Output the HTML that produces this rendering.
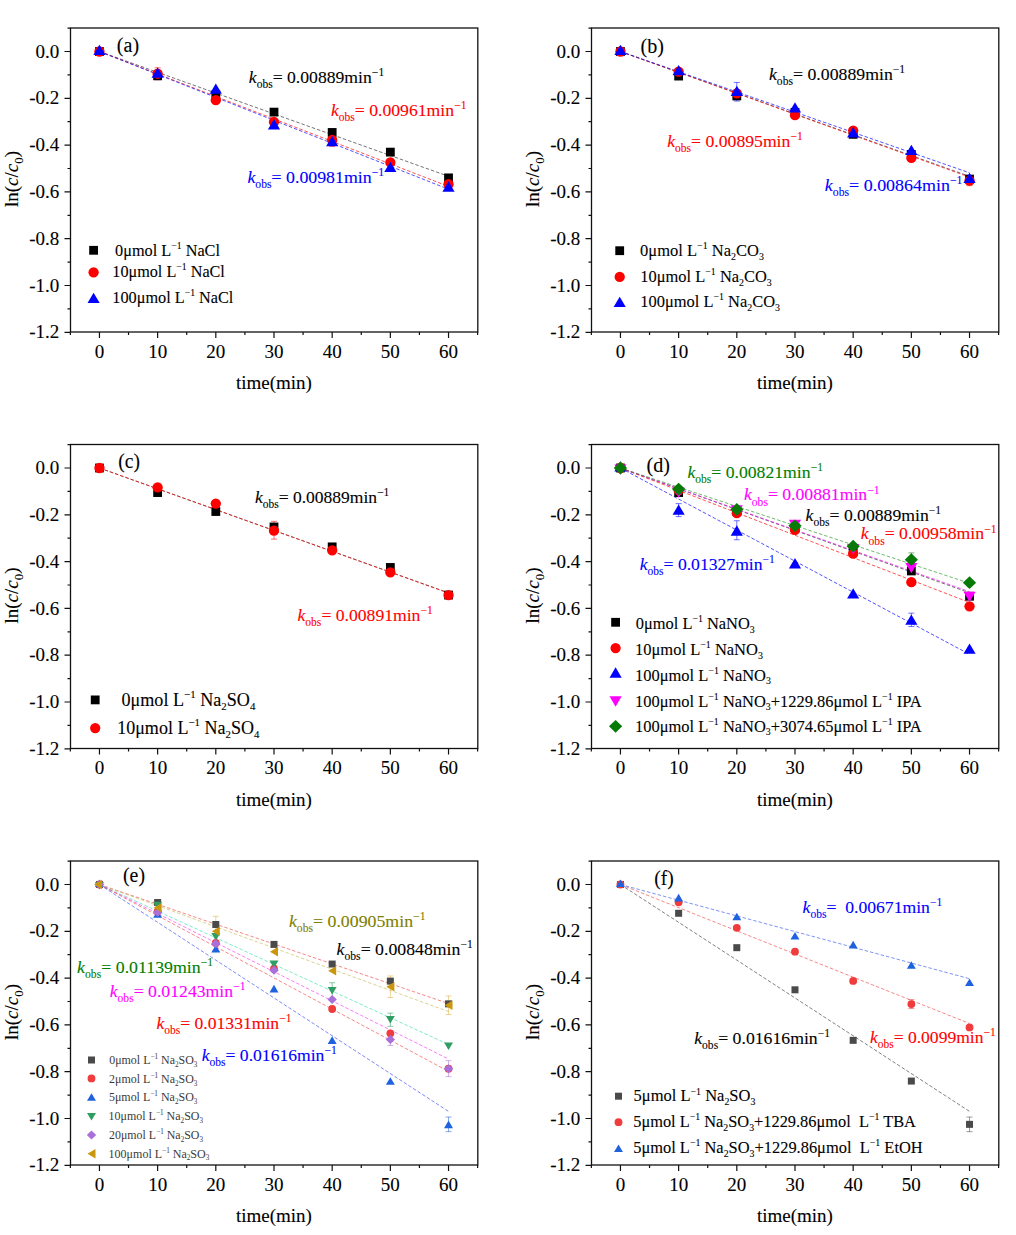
<!DOCTYPE html><html><head><meta charset="utf-8"><style>html,body{margin:0;padding:0;background:#fff;}svg{display:block;}text{font-family:"Liberation Serif", serif;stroke-width:0.1px;}</style></head><body>
<svg width="1016" height="1235" viewBox="0 0 1016 1235">
<rect width="1016" height="1235" fill="#fff"/>
<rect x="70.5" y="28" width="407.3" height="304" fill="none" stroke="#111" stroke-width="1.3"/>
<path d="M64.5 51.5H70.5M64.5 98.3H70.5M64.5 145.1H70.5M64.5 191.9H70.5M64.5 238.7H70.5M64.5 285.5H70.5M64.5 332.3H70.5M67.5 28.1H70.5M67.5 74.9H70.5M67.5 121.7H70.5M67.5 168.5H70.5M67.5 215.3H70.5M67.5 262.1H70.5M67.5 308.9H70.5M99.45 332V338M157.63 332V338M215.81 332V338M273.99 332V338M332.17 332V338M390.35 332V338M448.53 332V338M70.36 332V335M128.54 332V335M186.72 332V335M244.9 332V335M303.08 332V335M361.26 332V335M419.44 332V335M477.62 332V335" stroke="#111" stroke-width="1.2" fill="none"/>
<g font-size="19" text-anchor="end" fill="#000" stroke="#000">
<text x="59.3" y="57.6">0.0</text>
<text x="59.3" y="104.4">-0.2</text>
<text x="59.3" y="151.2">-0.4</text>
<text x="59.3" y="198">-0.6</text>
<text x="59.3" y="244.8">-0.8</text>
<text x="59.3" y="291.6">-1.0</text>
<text x="59.3" y="338.4">-1.2</text>
</g>
<g font-size="19" text-anchor="middle" fill="#000" stroke="#000">
<text x="99.45" y="357.6">0</text>
<text x="157.63" y="357.6">10</text>
<text x="215.81" y="357.6">20</text>
<text x="273.99" y="357.6">30</text>
<text x="332.17" y="357.6">40</text>
<text x="390.35" y="357.6">50</text>
<text x="448.53" y="357.6">60</text>
</g>
<text x="273.9" y="389" font-size="19" text-anchor="middle" stroke="#000">time(min)</text>
<text transform="translate(17.8,179) rotate(-90)" font-size="19" text-anchor="middle" stroke="#000">ln(<tspan font-style="italic">c</tspan>/<tspan font-style="italic">c</tspan><tspan font-size="13" dy="5.5">0</tspan><tspan dy="-5.5">)</tspan></text>
<rect x="591.5" y="28" width="407.3" height="304" fill="none" stroke="#111" stroke-width="1.3"/>
<path d="M585.5 51.5H591.5M585.5 98.3H591.5M585.5 145.1H591.5M585.5 191.9H591.5M585.5 238.7H591.5M585.5 285.5H591.5M585.5 332.3H591.5M588.5 28.1H591.5M588.5 74.9H591.5M588.5 121.7H591.5M588.5 168.5H591.5M588.5 215.3H591.5M588.5 262.1H591.5M588.5 308.9H591.5M620.45 332V338M678.63 332V338M736.81 332V338M794.99 332V338M853.17 332V338M911.35 332V338M969.53 332V338M591.36 332V335M649.54 332V335M707.72 332V335M765.9 332V335M824.08 332V335M882.26 332V335M940.44 332V335M998.62 332V335" stroke="#111" stroke-width="1.2" fill="none"/>
<g font-size="19" text-anchor="end" fill="#000" stroke="#000">
<text x="580.3" y="57.6">0.0</text>
<text x="580.3" y="104.4">-0.2</text>
<text x="580.3" y="151.2">-0.4</text>
<text x="580.3" y="198">-0.6</text>
<text x="580.3" y="244.8">-0.8</text>
<text x="580.3" y="291.6">-1.0</text>
<text x="580.3" y="338.4">-1.2</text>
</g>
<g font-size="19" text-anchor="middle" fill="#000" stroke="#000">
<text x="620.45" y="357.6">0</text>
<text x="678.63" y="357.6">10</text>
<text x="736.81" y="357.6">20</text>
<text x="794.99" y="357.6">30</text>
<text x="853.17" y="357.6">40</text>
<text x="911.35" y="357.6">50</text>
<text x="969.53" y="357.6">60</text>
</g>
<text x="794.9" y="389" font-size="19" text-anchor="middle" stroke="#000">time(min)</text>
<text transform="translate(538.8,179) rotate(-90)" font-size="19" text-anchor="middle" stroke="#000">ln(<tspan font-style="italic">c</tspan>/<tspan font-style="italic">c</tspan><tspan font-size="13" dy="5.5">0</tspan><tspan dy="-5.5">)</tspan></text>
<rect x="70.5" y="444.5" width="407.3" height="304" fill="none" stroke="#111" stroke-width="1.3"/>
<path d="M64.5 468H70.5M64.5 514.8H70.5M64.5 561.6H70.5M64.5 608.4H70.5M64.5 655.2H70.5M64.5 702H70.5M64.5 748.8H70.5M67.5 444.6H70.5M67.5 491.4H70.5M67.5 538.2H70.5M67.5 585H70.5M67.5 631.8H70.5M67.5 678.6H70.5M67.5 725.4H70.5M99.45 748.5V754.5M157.63 748.5V754.5M215.81 748.5V754.5M273.99 748.5V754.5M332.17 748.5V754.5M390.35 748.5V754.5M448.53 748.5V754.5M70.36 748.5V751.5M128.54 748.5V751.5M186.72 748.5V751.5M244.9 748.5V751.5M303.08 748.5V751.5M361.26 748.5V751.5M419.44 748.5V751.5M477.62 748.5V751.5" stroke="#111" stroke-width="1.2" fill="none"/>
<g font-size="19" text-anchor="end" fill="#000" stroke="#000">
<text x="59.3" y="474.1">0.0</text>
<text x="59.3" y="520.9">-0.2</text>
<text x="59.3" y="567.7">-0.4</text>
<text x="59.3" y="614.5">-0.6</text>
<text x="59.3" y="661.3">-0.8</text>
<text x="59.3" y="708.1">-1.0</text>
<text x="59.3" y="754.9">-1.2</text>
</g>
<g font-size="19" text-anchor="middle" fill="#000" stroke="#000">
<text x="99.45" y="774.1">0</text>
<text x="157.63" y="774.1">10</text>
<text x="215.81" y="774.1">20</text>
<text x="273.99" y="774.1">30</text>
<text x="332.17" y="774.1">40</text>
<text x="390.35" y="774.1">50</text>
<text x="448.53" y="774.1">60</text>
</g>
<text x="273.9" y="805.5" font-size="19" text-anchor="middle" stroke="#000">time(min)</text>
<text transform="translate(17.8,595.5) rotate(-90)" font-size="19" text-anchor="middle" stroke="#000">ln(<tspan font-style="italic">c</tspan>/<tspan font-style="italic">c</tspan><tspan font-size="13" dy="5.5">0</tspan><tspan dy="-5.5">)</tspan></text>
<rect x="591.5" y="444.5" width="407.3" height="304" fill="none" stroke="#111" stroke-width="1.3"/>
<path d="M585.5 468H591.5M585.5 514.8H591.5M585.5 561.6H591.5M585.5 608.4H591.5M585.5 655.2H591.5M585.5 702H591.5M585.5 748.8H591.5M588.5 444.6H591.5M588.5 491.4H591.5M588.5 538.2H591.5M588.5 585H591.5M588.5 631.8H591.5M588.5 678.6H591.5M588.5 725.4H591.5M620.45 748.5V754.5M678.63 748.5V754.5M736.81 748.5V754.5M794.99 748.5V754.5M853.17 748.5V754.5M911.35 748.5V754.5M969.53 748.5V754.5M591.36 748.5V751.5M649.54 748.5V751.5M707.72 748.5V751.5M765.9 748.5V751.5M824.08 748.5V751.5M882.26 748.5V751.5M940.44 748.5V751.5M998.62 748.5V751.5" stroke="#111" stroke-width="1.2" fill="none"/>
<g font-size="19" text-anchor="end" fill="#000" stroke="#000">
<text x="580.3" y="474.1">0.0</text>
<text x="580.3" y="520.9">-0.2</text>
<text x="580.3" y="567.7">-0.4</text>
<text x="580.3" y="614.5">-0.6</text>
<text x="580.3" y="661.3">-0.8</text>
<text x="580.3" y="708.1">-1.0</text>
<text x="580.3" y="754.9">-1.2</text>
</g>
<g font-size="19" text-anchor="middle" fill="#000" stroke="#000">
<text x="620.45" y="774.1">0</text>
<text x="678.63" y="774.1">10</text>
<text x="736.81" y="774.1">20</text>
<text x="794.99" y="774.1">30</text>
<text x="853.17" y="774.1">40</text>
<text x="911.35" y="774.1">50</text>
<text x="969.53" y="774.1">60</text>
</g>
<text x="794.9" y="805.5" font-size="19" text-anchor="middle" stroke="#000">time(min)</text>
<text transform="translate(538.8,595.5) rotate(-90)" font-size="19" text-anchor="middle" stroke="#000">ln(<tspan font-style="italic">c</tspan>/<tspan font-style="italic">c</tspan><tspan font-size="13" dy="5.5">0</tspan><tspan dy="-5.5">)</tspan></text>
<rect x="70.5" y="861" width="407.3" height="304" fill="none" stroke="#111" stroke-width="1.3"/>
<path d="M64.5 884.5H70.5M64.5 931.3H70.5M64.5 978.1H70.5M64.5 1024.9H70.5M64.5 1071.7H70.5M64.5 1118.5H70.5M64.5 1165.3H70.5M67.5 861.1H70.5M67.5 907.9H70.5M67.5 954.7H70.5M67.5 1001.5H70.5M67.5 1048.3H70.5M67.5 1095.1H70.5M67.5 1141.9H70.5M99.45 1165V1171M157.63 1165V1171M215.81 1165V1171M273.99 1165V1171M332.17 1165V1171M390.35 1165V1171M448.53 1165V1171M70.36 1165V1168M128.54 1165V1168M186.72 1165V1168M244.9 1165V1168M303.08 1165V1168M361.26 1165V1168M419.44 1165V1168M477.62 1165V1168" stroke="#111" stroke-width="1.2" fill="none"/>
<g font-size="19" text-anchor="end" fill="#000" stroke="#000">
<text x="59.3" y="890.6">0.0</text>
<text x="59.3" y="937.4">-0.2</text>
<text x="59.3" y="984.2">-0.4</text>
<text x="59.3" y="1031">-0.6</text>
<text x="59.3" y="1077.8">-0.8</text>
<text x="59.3" y="1124.6">-1.0</text>
<text x="59.3" y="1171.4">-1.2</text>
</g>
<g font-size="19" text-anchor="middle" fill="#000" stroke="#000">
<text x="99.45" y="1190.6">0</text>
<text x="157.63" y="1190.6">10</text>
<text x="215.81" y="1190.6">20</text>
<text x="273.99" y="1190.6">30</text>
<text x="332.17" y="1190.6">40</text>
<text x="390.35" y="1190.6">50</text>
<text x="448.53" y="1190.6">60</text>
</g>
<text x="273.9" y="1222" font-size="19" text-anchor="middle" stroke="#000">time(min)</text>
<text transform="translate(17.8,1012) rotate(-90)" font-size="19" text-anchor="middle" stroke="#000">ln(<tspan font-style="italic">c</tspan>/<tspan font-style="italic">c</tspan><tspan font-size="13" dy="5.5">0</tspan><tspan dy="-5.5">)</tspan></text>
<rect x="591.5" y="861" width="407.3" height="304" fill="none" stroke="#111" stroke-width="1.3"/>
<path d="M585.5 884.5H591.5M585.5 931.3H591.5M585.5 978.1H591.5M585.5 1024.9H591.5M585.5 1071.7H591.5M585.5 1118.5H591.5M585.5 1165.3H591.5M588.5 861.1H591.5M588.5 907.9H591.5M588.5 954.7H591.5M588.5 1001.5H591.5M588.5 1048.3H591.5M588.5 1095.1H591.5M588.5 1141.9H591.5M620.45 1165V1171M678.63 1165V1171M736.81 1165V1171M794.99 1165V1171M853.17 1165V1171M911.35 1165V1171M969.53 1165V1171M591.36 1165V1168M649.54 1165V1168M707.72 1165V1168M765.9 1165V1168M824.08 1165V1168M882.26 1165V1168M940.44 1165V1168M998.62 1165V1168" stroke="#111" stroke-width="1.2" fill="none"/>
<g font-size="19" text-anchor="end" fill="#000" stroke="#000">
<text x="580.3" y="890.6">0.0</text>
<text x="580.3" y="937.4">-0.2</text>
<text x="580.3" y="984.2">-0.4</text>
<text x="580.3" y="1031">-0.6</text>
<text x="580.3" y="1077.8">-0.8</text>
<text x="580.3" y="1124.6">-1.0</text>
<text x="580.3" y="1171.4">-1.2</text>
</g>
<g font-size="19" text-anchor="middle" fill="#000" stroke="#000">
<text x="620.45" y="1190.6">0</text>
<text x="678.63" y="1190.6">10</text>
<text x="736.81" y="1190.6">20</text>
<text x="794.99" y="1190.6">30</text>
<text x="853.17" y="1190.6">40</text>
<text x="911.35" y="1190.6">50</text>
<text x="969.53" y="1190.6">60</text>
</g>
<text x="794.9" y="1222" font-size="19" text-anchor="middle" stroke="#000">time(min)</text>
<text transform="translate(538.8,1012) rotate(-90)" font-size="19" text-anchor="middle" stroke="#000">ln(<tspan font-style="italic">c</tspan>/<tspan font-style="italic">c</tspan><tspan font-size="13" dy="5.5">0</tspan><tspan dy="-5.5">)</tspan></text>
<line x1="99.45" y1="51.5" x2="448.53" y2="176.32" stroke="#333" stroke-width="0.9" stroke-dasharray="3.5 2" opacity="0.75"/>
<line x1="99.45" y1="51.5" x2="448.53" y2="186.42" stroke="#ff0000" stroke-width="0.9" stroke-dasharray="3.5 2" opacity="0.75"/>
<line x1="99.45" y1="51.5" x2="448.53" y2="189.23" stroke="#0000ff" stroke-width="0.9" stroke-dasharray="3.5 2" opacity="0.75"/>
<path d="M157.63 67.73V79.73M154.63 67.73H160.63M154.63 79.73H160.63" stroke="#ff0000" stroke-width="1" fill="none" opacity="0.55"/>
<path d="M332.17 133.35V146.55M329.17 133.35H335.17M329.17 146.55H335.17" stroke="#ff0000" stroke-width="1" fill="none" opacity="0.55"/>
<rect x="95.05" y="47.1" width="8.8" height="8.8" fill="#000"/>
<rect x="153.23" y="71.44" width="8.8" height="8.8" fill="#000"/>
<rect x="211.41" y="90.39" width="8.8" height="8.8" fill="#000"/>
<rect x="269.59" y="107.71" width="8.8" height="8.8" fill="#000"/>
<rect x="327.77" y="128.06" width="8.8" height="8.8" fill="#000"/>
<rect x="385.95" y="147.72" width="8.8" height="8.8" fill="#000"/>
<rect x="444.13" y="173.46" width="8.8" height="8.8" fill="#000"/>
<circle cx="99.45" cy="51.5" r="5.15" fill="#ff0000"/>
<circle cx="157.63" cy="73.73" r="5.15" fill="#ff0000"/>
<circle cx="215.81" cy="100.17" r="5.15" fill="#ff0000"/>
<circle cx="273.99" cy="121.93" r="5.15" fill="#ff0000"/>
<circle cx="332.17" cy="139.95" r="5.15" fill="#ff0000"/>
<circle cx="390.35" cy="162.42" r="5.15" fill="#ff0000"/>
<circle cx="448.53" cy="184.18" r="5.15" fill="#ff0000"/>
<path d="M99.45 44.63L105.53 54.93H93.37Z" fill="#0000ff"/>
<path d="M157.63 67.41L163.71 77.71H151.55Z" fill="#0000ff"/>
<path d="M215.81 83.56L221.89 93.86H209.73Z" fill="#0000ff"/>
<path d="M273.99 119.12L280.07 129.42H267.91Z" fill="#0000ff"/>
<path d="M332.17 135.97L338.25 146.27H326.09Z" fill="#0000ff"/>
<path d="M390.35 161.71L396.43 172.01H384.27Z" fill="#0000ff"/>
<path d="M448.53 181.37L454.61 191.67H442.45Z" fill="#0000ff"/>
<g transform="translate(116.8,52) scale(1.0049,1.0)" fill="#000" stroke="#000"><text x="0" y="0" font-size="20" xml:space="preserve">(a)</text></g>
<g transform="translate(248.8,82.5) scale(0.9970,1.0)" fill="#000" stroke="#000"><text x="0" y="0" font-size="17.7" font-style="italic" xml:space="preserve">k</text><text x="7.86" y="5.2" font-size="11.6" xml:space="preserve">obs</text><text x="23.97" y="0" font-size="17.7" xml:space="preserve">= 0.00889min</text><text x="123.44" y="-6.8" font-size="11.6" xml:space="preserve">−1</text></g>
<g transform="translate(330.9,115.6) scale(0.9985,1.0)" fill="#ff0000" stroke="#ff0000"><text x="0" y="0" font-size="17.7" font-style="italic" xml:space="preserve">k</text><text x="7.86" y="5.2" font-size="11.6" xml:space="preserve">obs</text><text x="23.97" y="0" font-size="17.7" xml:space="preserve">= 0.00961min</text><text x="123.44" y="-6.8" font-size="11.6" xml:space="preserve">−1</text></g>
<g transform="translate(247.4,182.6) scale(1.0074,1.0)" fill="#0000ff" stroke="#0000ff"><text x="0" y="0" font-size="17.7" font-style="italic" xml:space="preserve">k</text><text x="7.86" y="5.2" font-size="11.6" xml:space="preserve">obs</text><text x="23.97" y="0" font-size="17.7" xml:space="preserve">= 0.00981min</text><text x="123.44" y="-6.8" font-size="11.6" xml:space="preserve">−1</text></g>
<line x1="620.45" y1="51.5" x2="969.53" y2="176.32" stroke="#333" stroke-width="0.9" stroke-dasharray="3.5 2" opacity="0.75"/>
<line x1="620.45" y1="51.5" x2="969.53" y2="177.16" stroke="#ff0000" stroke-width="0.9" stroke-dasharray="3.5 2" opacity="0.75"/>
<line x1="620.45" y1="51.5" x2="969.53" y2="172.81" stroke="#0000ff" stroke-width="0.9" stroke-dasharray="3.5 2" opacity="0.75"/>
<path d="M736.81 82.45V101.05M733.81 82.45H739.81M733.81 101.05H739.81" stroke="#0000ff" stroke-width="1" fill="none" opacity="0.55"/>
<path d="M969.53 175.67V185.67M966.53 175.67H972.53M966.53 185.67H972.53" stroke="#ff0000" stroke-width="1" fill="none" opacity="0.55"/>
<rect x="616.05" y="47.1" width="8.8" height="8.8" fill="#000"/>
<rect x="674.23" y="71.67" width="8.8" height="8.8" fill="#000"/>
<rect x="732.41" y="91.56" width="8.8" height="8.8" fill="#000"/>
<rect x="790.59" y="107.94" width="8.8" height="8.8" fill="#000"/>
<rect x="848.77" y="129.94" width="8.8" height="8.8" fill="#000"/>
<rect x="906.95" y="150.06" width="8.8" height="8.8" fill="#000"/>
<rect x="965.13" y="174.63" width="8.8" height="8.8" fill="#000"/>
<circle cx="620.45" cy="51.5" r="5.15" fill="#ff0000"/>
<circle cx="678.63" cy="71.62" r="5.15" fill="#ff0000"/>
<circle cx="736.81" cy="93.39" r="5.15" fill="#ff0000"/>
<circle cx="794.99" cy="115.15" r="5.15" fill="#ff0000"/>
<circle cx="853.17" cy="130.59" r="5.15" fill="#ff0000"/>
<circle cx="911.35" cy="157.97" r="5.15" fill="#ff0000"/>
<circle cx="969.53" cy="180.67" r="5.15" fill="#ff0000"/>
<path d="M620.45 44.63L626.53 54.93H614.37Z" fill="#0000ff"/>
<path d="M678.63 65.07L684.71 75.37H672.55Z" fill="#0000ff"/>
<path d="M736.81 85.66L742.89 95.96H730.73Z" fill="#0000ff"/>
<path d="M794.99 102.28L801.07 112.58H788.91Z" fill="#0000ff"/>
<path d="M853.17 127.08L859.25 137.38H847.09Z" fill="#0000ff"/>
<path d="M911.35 144.63L917.43 154.93H905.27Z" fill="#0000ff"/>
<path d="M969.53 172.71L975.61 183.01H963.45Z" fill="#0000ff"/>
<g transform="translate(640.6,52.7) scale(1.0047,1.0)" fill="#000" stroke="#000"><text x="0" y="0" font-size="20" xml:space="preserve">(b)</text></g>
<g transform="translate(769,80) scale(1.0030,1.0)" fill="#000" stroke="#000"><text x="0" y="0" font-size="17.7" font-style="italic" xml:space="preserve">k</text><text x="7.86" y="5.2" font-size="11.6" xml:space="preserve">obs</text><text x="23.97" y="0" font-size="17.7" xml:space="preserve">= 0.00889min</text><text x="123.44" y="-6.8" font-size="11.6" xml:space="preserve">−1</text></g>
<g transform="translate(667.2,147) scale(0.9985,1.0)" fill="#ff0000" stroke="#ff0000"><text x="0" y="0" font-size="17.7" font-style="italic" xml:space="preserve">k</text><text x="7.86" y="5.2" font-size="11.6" xml:space="preserve">obs</text><text x="23.97" y="0" font-size="17.7" xml:space="preserve">= 0.00895min</text><text x="123.44" y="-6.8" font-size="11.6" xml:space="preserve">−1</text></g>
<g transform="translate(824.79,191) scale(1.0141,1.0)" fill="#0000ff" stroke="#0000ff"><text x="0" y="0" font-size="17.7" font-style="italic" xml:space="preserve">k</text><text x="7.86" y="5.2" font-size="11.6" xml:space="preserve">obs</text><text x="23.97" y="0" font-size="17.7" xml:space="preserve">= 0.00864min</text><text x="123.44" y="-6.8" font-size="11.6" xml:space="preserve">−1</text></g>
<line x1="99.45" y1="468" x2="448.53" y2="592.82" stroke="#333" stroke-width="0.9" stroke-dasharray="3.5 2" opacity="0.75"/>
<line x1="99.45" y1="468" x2="448.53" y2="593.1" stroke="#ff0000" stroke-width="0.9" stroke-dasharray="3.5 2" opacity="0.75"/>
<path d="M273.99 521.34V539.14M270.99 521.34H276.99M270.99 539.14H276.99" stroke="#ff0000" stroke-width="1" fill="none" opacity="0.55"/>
<rect x="95.05" y="463.6" width="8.8" height="8.8" fill="#000"/>
<rect x="153.23" y="488.17" width="8.8" height="8.8" fill="#000"/>
<rect x="211.41" y="507.12" width="8.8" height="8.8" fill="#000"/>
<rect x="269.59" y="522.57" width="8.8" height="8.8" fill="#000"/>
<rect x="327.77" y="542.46" width="8.8" height="8.8" fill="#000"/>
<rect x="385.95" y="563.05" width="8.8" height="8.8" fill="#000"/>
<rect x="444.13" y="590.66" width="8.8" height="8.8" fill="#000"/>
<circle cx="99.45" cy="468" r="5.15" fill="#ff0000"/>
<circle cx="157.63" cy="487.42" r="5.15" fill="#ff0000"/>
<circle cx="215.81" cy="503.57" r="5.15" fill="#ff0000"/>
<circle cx="273.99" cy="530.71" r="5.15" fill="#ff0000"/>
<circle cx="332.17" cy="550.37" r="5.15" fill="#ff0000"/>
<circle cx="390.35" cy="572.36" r="5.15" fill="#ff0000"/>
<circle cx="448.53" cy="595.06" r="5.15" fill="#ff0000"/>
<g transform="translate(118.32,468.4) scale(0.9754,1.0)" fill="#000" stroke="#000"><text x="0" y="0" font-size="20" xml:space="preserve">(c)</text></g>
<g transform="translate(254.9,502.6) scale(0.9903,1.0)" fill="#000" stroke="#000"><text x="0" y="0" font-size="17.7" font-style="italic" xml:space="preserve">k</text><text x="7.86" y="5.2" font-size="11.6" xml:space="preserve">obs</text><text x="23.97" y="0" font-size="17.7" xml:space="preserve">= 0.00889min</text><text x="123.44" y="-6.8" font-size="11.6" xml:space="preserve">−1</text></g>
<g transform="translate(297.5,620.7) scale(0.9963,1.0)" fill="#ff0000" stroke="#ff0000"><text x="0" y="0" font-size="17.7" font-style="italic" xml:space="preserve">k</text><text x="7.86" y="5.2" font-size="11.6" xml:space="preserve">obs</text><text x="23.97" y="0" font-size="17.7" xml:space="preserve">= 0.00891min</text><text x="123.44" y="-6.8" font-size="11.6" xml:space="preserve">−1</text></g>
<line x1="620.45" y1="468" x2="969.53" y2="592.82" stroke="#333" stroke-width="0.9" stroke-dasharray="3.5 2" opacity="0.75"/>
<line x1="620.45" y1="468" x2="969.53" y2="602.5" stroke="#ff0000" stroke-width="0.9" stroke-dasharray="3.5 2" opacity="0.75"/>
<line x1="620.45" y1="468" x2="969.53" y2="654.31" stroke="#0000ff" stroke-width="0.9" stroke-dasharray="3.5 2" opacity="0.75"/>
<line x1="620.45" y1="468" x2="969.53" y2="591.69" stroke="#ff00ff" stroke-width="0.9" stroke-dasharray="3.5 2" opacity="0.75"/>
<line x1="620.45" y1="468" x2="969.53" y2="583.27" stroke="#2a9a2a" stroke-width="0.9" stroke-dasharray="3.5 2" opacity="0.75"/>
<path d="M678.63 503.62V516.62M675.63 503.62H681.63M675.63 516.62H681.63" stroke="#0000ff" stroke-width="1" fill="none" opacity="0.55"/>
<path d="M736.81 520.74V539.74M733.81 520.74H739.81M733.81 539.74H739.81" stroke="#0000ff" stroke-width="1" fill="none" opacity="0.55"/>
<path d="M911.35 613.17V626.57M908.35 613.17H914.35M908.35 626.57H914.35" stroke="#0000ff" stroke-width="1" fill="none" opacity="0.55"/>
<path d="M911.35 552.9V568.9M908.35 552.9H914.35M908.35 568.9H914.35" stroke="#087a08" stroke-width="1" fill="none" opacity="0.55"/>
<rect x="616.05" y="463.6" width="8.8" height="8.8" fill="#000"/>
<rect x="674.23" y="488.17" width="8.8" height="8.8" fill="#000"/>
<rect x="732.41" y="507.12" width="8.8" height="8.8" fill="#000"/>
<rect x="790.59" y="523.27" width="8.8" height="8.8" fill="#000"/>
<rect x="848.77" y="546.2" width="8.8" height="8.8" fill="#000"/>
<rect x="906.95" y="566.56" width="8.8" height="8.8" fill="#000"/>
<rect x="965.13" y="591.83" width="8.8" height="8.8" fill="#000"/>
<circle cx="620.45" cy="468" r="5.15" fill="#ff0000"/>
<circle cx="678.63" cy="490.23" r="5.15" fill="#ff0000"/>
<circle cx="736.81" cy="513.16" r="5.15" fill="#ff0000"/>
<circle cx="794.99" cy="529.78" r="5.15" fill="#ff0000"/>
<circle cx="853.17" cy="553.64" r="5.15" fill="#ff0000"/>
<circle cx="911.35" cy="582.19" r="5.15" fill="#ff0000"/>
<circle cx="969.53" cy="606.29" r="5.15" fill="#ff0000"/>
<path d="M620.45 461.13L626.53 471.43H614.37Z" fill="#0000ff"/>
<path d="M678.63 504.5L684.71 514.8H672.55Z" fill="#0000ff"/>
<path d="M736.81 525.33L742.89 535.63H730.73Z" fill="#0000ff"/>
<path d="M794.99 558.09L801.07 568.39H788.91Z" fill="#0000ff"/>
<path d="M853.17 588.27L859.25 598.57H847.09Z" fill="#0000ff"/>
<path d="M911.35 614.48L917.43 624.78H905.27Z" fill="#0000ff"/>
<path d="M969.53 643.5L975.61 653.8H963.45Z" fill="#0000ff"/>
<path d="M620.45 474.87L626.53 464.57H614.37Z" fill="#ff00ff"/>
<path d="M678.63 497.72L684.71 487.42H672.55Z" fill="#ff00ff"/>
<path d="M736.81 515.5L742.89 505.2H730.73Z" fill="#ff00ff"/>
<path d="M794.99 530.01L801.07 519.71H788.91Z" fill="#ff00ff"/>
<path d="M853.17 554.35L859.25 544.05H847.09Z" fill="#ff00ff"/>
<path d="M911.35 573.3L917.43 563H905.27Z" fill="#ff00ff"/>
<path d="M969.53 602.08L975.61 591.78H963.45Z" fill="#ff00ff"/>
<path d="M620.45 461.62L627.08 468L620.45 474.38L613.82 468Z" fill="#087a08"/>
<path d="M678.63 482.69L685.26 489.06L678.63 495.44L672 489.06Z" fill="#087a08"/>
<path d="M736.81 503.04L743.44 509.42L736.81 515.79L730.18 509.42Z" fill="#087a08"/>
<path d="M794.99 519.42L801.62 525.8L794.99 532.17L788.36 525.8Z" fill="#087a08"/>
<path d="M853.17 539.78L859.8 546.16L853.17 552.53L846.54 546.16Z" fill="#087a08"/>
<path d="M911.35 553.35L917.98 559.73L911.35 566.1L904.72 559.73Z" fill="#087a08"/>
<path d="M969.53 576.28L976.16 582.66L969.53 589.03L962.9 582.66Z" fill="#087a08"/>
<g transform="translate(646.5,471.9) scale(1.0047,1.0)" fill="#000" stroke="#000"><text x="0" y="0" font-size="20" xml:space="preserve">(d)</text></g>
<g transform="translate(687.4,477.6) scale(0.9985,1.0)" fill="#008000" stroke="#008000"><text x="0" y="0" font-size="17.7" font-style="italic" xml:space="preserve">k</text><text x="7.86" y="5.2" font-size="11.6" xml:space="preserve">obs</text><text x="23.97" y="0" font-size="17.7" xml:space="preserve">= 0.00821min</text><text x="123.44" y="-6.8" font-size="11.6" xml:space="preserve">−1</text></g>
<g transform="translate(744,500.3) scale(0.9985,1.0)" fill="#ff00ff" stroke="#ff00ff"><text x="0" y="0" font-size="17.7" font-style="italic" xml:space="preserve">k</text><text x="7.86" y="5.2" font-size="11.6" xml:space="preserve">obs</text><text x="23.97" y="0" font-size="17.7" xml:space="preserve">= 0.00881min</text><text x="123.44" y="-6.8" font-size="11.6" xml:space="preserve">−1</text></g>
<g transform="translate(805.6,520.6) scale(0.9978,1.0)" fill="#000" stroke="#000"><text x="0" y="0" font-size="17.7" font-style="italic" xml:space="preserve">k</text><text x="7.86" y="5.2" font-size="11.6" xml:space="preserve">obs</text><text x="23.97" y="0" font-size="17.7" xml:space="preserve">= 0.00889min</text><text x="123.44" y="-6.8" font-size="11.6" xml:space="preserve">−1</text></g>
<g transform="translate(860.7,539.3) scale(1.0007,1.0)" fill="#ff0000" stroke="#ff0000"><text x="0" y="0" font-size="17.7" font-style="italic" xml:space="preserve">k</text><text x="7.86" y="5.2" font-size="11.6" xml:space="preserve">obs</text><text x="23.97" y="0" font-size="17.7" xml:space="preserve">= 0.00958min</text><text x="123.44" y="-6.8" font-size="11.6" xml:space="preserve">−1</text></g>
<g transform="translate(639.7,570.2) scale(0.9955,1.0)" fill="#0000ff" stroke="#0000ff"><text x="0" y="0" font-size="17.7" font-style="italic" xml:space="preserve">k</text><text x="7.86" y="5.2" font-size="11.6" xml:space="preserve">obs</text><text x="23.97" y="0" font-size="17.7" xml:space="preserve">= 0.01327min</text><text x="123.44" y="-6.8" font-size="11.6" xml:space="preserve">−1</text></g>
<line x1="99.45" y1="884.5" x2="448.53" y2="1003.56" stroke="#f05050" stroke-width="0.9" stroke-dasharray="3.5 2" opacity="0.75"/>
<line x1="99.45" y1="884.5" x2="448.53" y2="1011.56" stroke="#c8c060" stroke-width="0.9" stroke-dasharray="3.5 2" opacity="0.75"/>
<line x1="99.45" y1="884.5" x2="448.53" y2="1044.42" stroke="#40e0b0" stroke-width="0.9" stroke-dasharray="3.5 2" opacity="0.75"/>
<line x1="99.45" y1="884.5" x2="448.53" y2="1059.02" stroke="#ff40ff" stroke-width="0.9" stroke-dasharray="3.5 2" opacity="0.75"/>
<line x1="99.45" y1="884.5" x2="448.53" y2="1071.37" stroke="#f05050" stroke-width="0.9" stroke-dasharray="3.5 2" opacity="0.75"/>
<line x1="99.45" y1="884.5" x2="448.53" y2="1111.39" stroke="#4050f0" stroke-width="0.9" stroke-dasharray="3.5 2" opacity="0.75"/>
<path d="M215.81 916.3V946.3M212.81 916.3H218.81M212.81 946.3H218.81" stroke="#e0b040" stroke-width="1" fill="none" opacity="0.55"/>
<path d="M390.35 975.96V997.56M387.35 975.96H393.35M387.35 997.56H393.35" stroke="#e0b040" stroke-width="1" fill="none" opacity="0.55"/>
<path d="M448.53 995.94V1014.54M445.53 995.94H451.53M445.53 1014.54H451.53" stroke="#e0b040" stroke-width="1" fill="none" opacity="0.55"/>
<path d="M390.35 1013.15V1026.35M387.35 1013.15H393.35M387.35 1026.35H393.35" stroke="#2e9e62" stroke-width="1" fill="none" opacity="0.55"/>
<path d="M332.17 982.74V998.74M329.17 982.74H335.17M329.17 998.74H335.17" stroke="#2e9e62" stroke-width="1" fill="none" opacity="0.55"/>
<path d="M448.53 1060.66V1076.66M445.53 1060.66H451.53M445.53 1076.66H451.53" stroke="#a96fdb" stroke-width="1" fill="none" opacity="0.55"/>
<path d="M448.53 1117.05V1131.65M445.53 1117.05H451.53M445.53 1131.65H451.53" stroke="#1f62e0" stroke-width="1" fill="none" opacity="0.55"/>
<path d="M390.35 1033.41V1045.41M387.35 1033.41H393.35M387.35 1045.41H393.35" stroke="#a96fdb" stroke-width="1" fill="none" opacity="0.55"/>
<rect x="95.95" y="881" width="7" height="7" fill="#4a4a4a"/>
<rect x="154.13" y="899.02" width="7" height="7" fill="#4a4a4a"/>
<rect x="212.31" y="921.01" width="7" height="7" fill="#4a4a4a"/>
<rect x="270.49" y="940.9" width="7" height="7" fill="#4a4a4a"/>
<rect x="328.67" y="960.56" width="7" height="7" fill="#4a4a4a"/>
<rect x="386.85" y="977.64" width="7" height="7" fill="#4a4a4a"/>
<rect x="445.03" y="1000.34" width="7" height="7" fill="#4a4a4a"/>
<circle cx="99.45" cy="884.5" r="3.9" fill="#f03c3c"/>
<circle cx="157.63" cy="911.41" r="3.9" fill="#f03c3c"/>
<circle cx="215.81" cy="943" r="3.9" fill="#f03c3c"/>
<circle cx="273.99" cy="968.74" r="3.9" fill="#f03c3c"/>
<circle cx="332.17" cy="1008.99" r="3.9" fill="#f03c3c"/>
<circle cx="390.35" cy="1033.32" r="3.9" fill="#f03c3c"/>
<circle cx="448.53" cy="1068.66" r="3.9" fill="#f03c3c"/>
<path d="M99.45 879.43L103.93 887.03H94.97Z" fill="#1f62e0"/>
<path d="M157.63 910.18L162.11 917.78H153.15Z" fill="#1f62e0"/>
<path d="M215.81 944.82L220.29 952.42H211.33Z" fill="#1f62e0"/>
<path d="M273.99 984.83L278.47 992.43H269.51Z" fill="#1f62e0"/>
<path d="M332.17 1036.31L336.65 1043.91H327.69Z" fill="#1f62e0"/>
<path d="M390.35 1077.26L394.83 1084.86H385.87Z" fill="#1f62e0"/>
<path d="M448.53 1120.55L453.01 1128.15H444.05Z" fill="#1f62e0"/>
<path d="M99.45 889.57L103.93 881.97H94.97Z" fill="#2e9e62"/>
<path d="M157.63 909.36L162.11 901.76H153.15Z" fill="#2e9e62"/>
<path d="M215.81 940.72L220.29 933.12H211.33Z" fill="#2e9e62"/>
<path d="M273.99 968.09L278.47 960.49H269.51Z" fill="#2e9e62"/>
<path d="M332.17 994.54L336.65 986.94H327.69Z" fill="#2e9e62"/>
<path d="M390.35 1023.55L394.83 1015.95H385.87Z" fill="#2e9e62"/>
<path d="M448.53 1049.99L453.01 1042.39H444.05Z" fill="#2e9e62"/>
<path d="M99.45 880L104.13 884.5L99.45 889L94.77 884.5Z" fill="#a96fdb"/>
<path d="M157.63 907.85L162.31 912.35L157.63 916.85L152.95 912.35Z" fill="#a96fdb"/>
<path d="M215.81 939.2L220.49 943.7L215.81 948.2L211.13 943.7Z" fill="#a96fdb"/>
<path d="M273.99 965.64L278.67 970.14L273.99 974.64L269.31 970.14Z" fill="#a96fdb"/>
<path d="M332.17 994.89L336.85 999.39L332.17 1003.89L327.49 999.39Z" fill="#a96fdb"/>
<path d="M390.35 1034.91L395.03 1039.41L390.35 1043.91L385.67 1039.41Z" fill="#a96fdb"/>
<path d="M448.53 1064.16L453.21 1068.66L448.53 1073.16L443.85 1068.66Z" fill="#a96fdb"/>
<path d="M94.12 884.5L102.12 879.78V889.22Z" fill="#c9960c"/>
<path d="M153.63 907.67L161.63 902.95V912.39Z" fill="#c9960c"/>
<path d="M211.81 931.3L219.81 926.58V936.02Z" fill="#c9960c"/>
<path d="M269.99 951.66L277.99 946.94V956.38Z" fill="#c9960c"/>
<path d="M328.17 970.85L336.17 966.13V975.57Z" fill="#c9960c"/>
<path d="M386.35 986.76L394.35 982.04V991.48Z" fill="#c9960c"/>
<path d="M444.53 1005.24L452.53 1000.52V1009.96Z" fill="#c9960c"/>
<g transform="translate(123.01,881.7) scale(0.9901,1.0)" fill="#000" stroke="#000"><text x="0" y="0" font-size="20" xml:space="preserve">(e)</text></g>
<g transform="translate(288.9,926.7) scale(1.0059,1.0)" fill="#808000" stroke="#808000"><text x="0" y="0" font-size="17.7" font-style="italic" xml:space="preserve">k</text><text x="7.86" y="5.2" font-size="11.6" xml:space="preserve">obs</text><text x="23.97" y="0" font-size="17.7" xml:space="preserve">= 0.00905min</text><text x="123.44" y="-6.8" font-size="11.6" xml:space="preserve">−1</text></g>
<g transform="translate(336.6,955.2) scale(1.0030,1.0)" fill="#000" stroke="#000"><text x="0" y="0" font-size="17.7" font-style="italic" xml:space="preserve">k</text><text x="7.86" y="5.2" font-size="11.6" xml:space="preserve">obs</text><text x="23.97" y="0" font-size="17.7" xml:space="preserve">= 0.00848min</text><text x="123.44" y="-6.8" font-size="11.6" xml:space="preserve">−1</text></g>
<g transform="translate(77.1,972.5) scale(1.0067,1.0)" fill="#008000" stroke="#008000"><text x="0" y="0" font-size="17.7" font-style="italic" xml:space="preserve">k</text><text x="7.86" y="5.2" font-size="11.6" xml:space="preserve">obs</text><text x="23.97" y="0" font-size="17.7" xml:space="preserve">= 0.01139min</text><text x="122.78" y="-6.8" font-size="11.6" xml:space="preserve">−1</text></g>
<g transform="translate(109.7,996.5) scale(1.0007,1.0)" fill="#ff00ff" stroke="#ff00ff"><text x="0" y="0" font-size="17.7" font-style="italic" xml:space="preserve">k</text><text x="7.86" y="5.2" font-size="11.6" xml:space="preserve">obs</text><text x="23.97" y="0" font-size="17.7" xml:space="preserve">= 0.01243min</text><text x="123.44" y="-6.8" font-size="11.6" xml:space="preserve">−1</text></g>
<g transform="translate(156.4,1028.7) scale(0.9948,1.0)" fill="#ff0000" stroke="#ff0000"><text x="0" y="0" font-size="17.7" font-style="italic" xml:space="preserve">k</text><text x="7.86" y="5.2" font-size="11.6" xml:space="preserve">obs</text><text x="23.97" y="0" font-size="17.7" xml:space="preserve">= 0.01331min</text><text x="123.44" y="-6.8" font-size="11.6" xml:space="preserve">−1</text></g>
<g transform="translate(201.7,1061.2) scale(0.9948,1.0)" fill="#0000ff" stroke="#0000ff"><text x="0" y="0" font-size="17.7" font-style="italic" xml:space="preserve">k</text><text x="7.86" y="5.2" font-size="11.6" xml:space="preserve">obs</text><text x="23.97" y="0" font-size="17.7" xml:space="preserve">= 0.01616min</text><text x="123.44" y="-6.8" font-size="11.6" xml:space="preserve">−1</text></g>
<line x1="620.45" y1="884.5" x2="969.53" y2="1111.39" stroke="#444" stroke-width="0.9" stroke-dasharray="3.5 2" opacity="0.75"/>
<line x1="620.45" y1="884.5" x2="969.53" y2="1023.5" stroke="#f05050" stroke-width="0.9" stroke-dasharray="3.5 2" opacity="0.75"/>
<line x1="620.45" y1="884.5" x2="969.53" y2="978.71" stroke="#4060f0" stroke-width="0.9" stroke-dasharray="3.5 2" opacity="0.75"/>
<path d="M969.53 1117.05V1131.65M966.53 1117.05H972.53M966.53 1131.65H972.53" stroke="#4a4a4a" stroke-width="1" fill="none" opacity="0.55"/>
<path d="M911.35 999.57V1008.57M908.35 999.57H914.35M908.35 1008.57H914.35" stroke="#f03c3c" stroke-width="1" fill="none" opacity="0.55"/>
<rect x="616.95" y="881" width="7" height="7" fill="#4a4a4a"/>
<rect x="675.13" y="909.78" width="7" height="7" fill="#4a4a4a"/>
<rect x="733.31" y="944.18" width="7" height="7" fill="#4a4a4a"/>
<rect x="791.49" y="986.3" width="7" height="7" fill="#4a4a4a"/>
<rect x="849.67" y="1036.84" width="7" height="7" fill="#4a4a4a"/>
<rect x="907.85" y="1077.56" width="7" height="7" fill="#4a4a4a"/>
<rect x="966.03" y="1120.85" width="7" height="7" fill="#4a4a4a"/>
<circle cx="620.45" cy="884.5" r="3.9" fill="#f03c3c"/>
<circle cx="678.63" cy="902.28" r="3.9" fill="#f03c3c"/>
<circle cx="736.81" cy="927.79" r="3.9" fill="#f03c3c"/>
<circle cx="794.99" cy="951.66" r="3.9" fill="#f03c3c"/>
<circle cx="853.17" cy="980.91" r="3.9" fill="#f03c3c"/>
<circle cx="911.35" cy="1004.07" r="3.9" fill="#f03c3c"/>
<circle cx="969.53" cy="1027.47" r="3.9" fill="#f03c3c"/>
<path d="M620.45 879.43L624.93 887.03H615.97Z" fill="#1f62e0"/>
<path d="M678.63 893.8L683.11 901.4H674.15Z" fill="#1f62e0"/>
<path d="M736.81 912.76L741.29 920.36H732.33Z" fill="#1f62e0"/>
<path d="M794.99 931.95L799.47 939.55H790.51Z" fill="#1f62e0"/>
<path d="M853.17 940.84L857.65 948.44H848.69Z" fill="#1f62e0"/>
<path d="M911.35 961.2L915.83 968.8H906.87Z" fill="#1f62e0"/>
<path d="M969.53 978.51L974.01 986.11H965.05Z" fill="#1f62e0"/>
<g transform="translate(654.22,884.7) scale(0.9779,1.0)" fill="#000" stroke="#000"><text x="0" y="0" font-size="20" xml:space="preserve">(f)</text></g>
<g transform="translate(802.6,913.1) scale(0.9957,1.0)" fill="#0000ff" stroke="#0000ff"><text x="0" y="0" font-size="17.7" font-style="italic" xml:space="preserve">k</text><text x="7.86" y="5.2" font-size="11.6" xml:space="preserve">obs</text><text x="23.97" y="0" font-size="17.7" xml:space="preserve">=  0.00671min</text><text x="127.86" y="-6.8" font-size="11.6" xml:space="preserve">−1</text></g>
<g transform="translate(694.2,1043.6) scale(1.0015,1.0)" fill="#000" stroke="#000"><text x="0" y="0" font-size="17.7" font-style="italic" xml:space="preserve">k</text><text x="7.86" y="5.2" font-size="11.6" xml:space="preserve">obs</text><text x="23.97" y="0" font-size="17.7" xml:space="preserve">= 0.01616min</text><text x="123.44" y="-6.8" font-size="11.6" xml:space="preserve">−1</text></g>
<g transform="translate(869.9,1043) scale(0.9920,1.0)" fill="#ff0000" stroke="#ff0000"><text x="0" y="0" font-size="17.7" font-style="italic" xml:space="preserve">k</text><text x="7.86" y="5.2" font-size="11.6" xml:space="preserve">obs</text><text x="23.97" y="0" font-size="17.7" xml:space="preserve">= 0.0099min</text><text x="114.59" y="-6.8" font-size="11.6" xml:space="preserve">−1</text></g>
<rect x="89.2" y="245.9" width="8.8" height="8.8" fill="#000"/>
<g transform="translate(115.1,255.6) scale(1.0039,1.0)" fill="#000" stroke="#000"><text x="0" y="0" font-size="16.2" xml:space="preserve">0μmol L</text><text x="55.93" y="-6.8" font-size="9.72" xml:space="preserve">−1</text><text x="66.25" y="0" font-size="16.2" xml:space="preserve"> </text><text x="70.3" y="0" font-size="16.2" xml:space="preserve">NaCl</text></g>
<circle cx="93.6" cy="272.3" r="5.15" fill="#ff0000"/>
<g transform="translate(112.3,277.2) scale(1.0000,1.0)" fill="#000" stroke="#000"><text x="0" y="0" font-size="16.2" xml:space="preserve">10μmol L</text><text x="64.03" y="-6.8" font-size="9.72" xml:space="preserve">−1</text><text x="74.35" y="0" font-size="16.2" xml:space="preserve"> </text><text x="78.4" y="0" font-size="16.2" xml:space="preserve">NaCl</text></g>
<path d="M93.6 292.75L99.68 303.05H87.52Z" fill="#0000ff"/>
<g transform="translate(112.3,303.2) scale(1.0034,1.0)" fill="#000" stroke="#000"><text x="0" y="0" font-size="16.2" xml:space="preserve">100μmol L</text><text x="72.13" y="-6.8" font-size="9.72" xml:space="preserve">−1</text><text x="82.45" y="0" font-size="16.2" xml:space="preserve"> </text><text x="86.5" y="0" font-size="16.2" xml:space="preserve">NaCl</text></g>
<rect x="615.3" y="246.3" width="8.8" height="8.8" fill="#000"/>
<g transform="translate(640.1,256) scale(1.0008,1.0)" fill="#000" stroke="#000"><text x="0" y="0" font-size="16.5" xml:space="preserve">0μmol L</text><text x="56.97" y="-6.93" font-size="9.9" xml:space="preserve">−1</text><text x="67.5" y="0" font-size="16.5" xml:space="preserve"> </text><text x="71.63" y="0" font-size="16.5" xml:space="preserve">Na</text><text x="90.87" y="3.96" font-size="9.9" xml:space="preserve">2</text><text x="95.82" y="0" font-size="16.5" xml:space="preserve">CO</text><text x="118.74" y="3.96" font-size="9.9" xml:space="preserve">3</text></g>
<circle cx="619.7" cy="276.9" r="5.15" fill="#ff0000"/>
<g transform="translate(640.31,282.2) scale(0.9962,1.0)" fill="#000" stroke="#000"><text x="0" y="0" font-size="16.5" xml:space="preserve">10μmol L</text><text x="65.22" y="-6.93" font-size="9.9" xml:space="preserve">−1</text><text x="75.75" y="0" font-size="16.5" xml:space="preserve"> </text><text x="79.88" y="0" font-size="16.5" xml:space="preserve">Na</text><text x="99.12" y="3.96" font-size="9.9" xml:space="preserve">2</text><text x="104.07" y="0" font-size="16.5" xml:space="preserve">CO</text><text x="126.99" y="3.96" font-size="9.9" xml:space="preserve">3</text></g>
<path d="M619.7 296.75L625.78 307.05H613.62Z" fill="#0000ff"/>
<g transform="translate(640.31,306.8) scale(0.9964,1.0)" fill="#000" stroke="#000"><text x="0" y="0" font-size="16.5" xml:space="preserve">100μmol L</text><text x="73.47" y="-6.93" font-size="9.9" xml:space="preserve">−1</text><text x="84" y="0" font-size="16.5" xml:space="preserve"> </text><text x="88.13" y="0" font-size="16.5" xml:space="preserve">Na</text><text x="107.37" y="3.96" font-size="9.9" xml:space="preserve">2</text><text x="112.32" y="0" font-size="16.5" xml:space="preserve">CO</text><text x="135.24" y="3.96" font-size="9.9" xml:space="preserve">3</text></g>
<rect x="90.8" y="695.5" width="8.8" height="8.8" fill="#000"/>
<g transform="translate(121.5,706) scale(1.0068,1.0)" fill="#000" stroke="#000"><text x="0" y="0" font-size="18" xml:space="preserve">0μmol L</text><text x="62.15" y="-7.56" font-size="10.8" xml:space="preserve">−1</text><text x="73.64" y="0" font-size="18" xml:space="preserve"> </text><text x="78.14" y="0" font-size="18" xml:space="preserve">Na</text><text x="99.13" y="4.32" font-size="10.8" xml:space="preserve">2</text><text x="104.53" y="0" font-size="18" xml:space="preserve">SO</text><text x="127.54" y="4.32" font-size="10.8" xml:space="preserve">4</text></g>
<circle cx="95.2" cy="728.1" r="5.15" fill="#ff0000"/>
<g transform="translate(117.2,734) scale(1.0014,1.0)" fill="#000" stroke="#000"><text x="0" y="0" font-size="18" xml:space="preserve">10μmol L</text><text x="71.15" y="-7.56" font-size="10.8" xml:space="preserve">−1</text><text x="82.64" y="0" font-size="18" xml:space="preserve"> </text><text x="87.14" y="0" font-size="18" xml:space="preserve">Na</text><text x="108.13" y="4.32" font-size="10.8" xml:space="preserve">2</text><text x="113.53" y="0" font-size="18" xml:space="preserve">SO</text><text x="136.54" y="4.32" font-size="10.8" xml:space="preserve">4</text></g>
<rect x="611.2" y="617.9" width="8.8" height="8.8" fill="#000"/>
<g transform="translate(635.8,628.6) scale(0.9941,1.0)" fill="#000" stroke="#000"><text x="0" y="0" font-size="16.5" xml:space="preserve">0μmol L</text><text x="56.97" y="-6.93" font-size="9.9" xml:space="preserve">−1</text><text x="67.5" y="0" font-size="16.5" xml:space="preserve"> </text><text x="71.63" y="0" font-size="16.5" xml:space="preserve">NaNO</text><text x="114.7" y="3.96" font-size="9.9" xml:space="preserve">3</text></g>
<circle cx="615.6" cy="648.1" r="5.15" fill="#ff0000"/>
<g transform="translate(635,654.6) scale(1.0000,1.0)" fill="#000" stroke="#000"><text x="0" y="0" font-size="16.5" xml:space="preserve">10μmol L</text><text x="65.22" y="-6.93" font-size="9.9" xml:space="preserve">−1</text><text x="75.75" y="0" font-size="16.5" xml:space="preserve"> </text><text x="79.88" y="0" font-size="16.5" xml:space="preserve">NaNO</text><text x="122.95" y="3.96" font-size="9.9" xml:space="preserve">3</text></g>
<path d="M615.6 667.35L621.68 677.65H609.52Z" fill="#0000ff"/>
<g transform="translate(635,680.5) scale(0.9985,1.0)" fill="#000" stroke="#000"><text x="0" y="0" font-size="16.5" xml:space="preserve">100μmol L</text><text x="73.47" y="-6.93" font-size="9.9" xml:space="preserve">−1</text><text x="84" y="0" font-size="16.5" xml:space="preserve"> </text><text x="88.13" y="0" font-size="16.5" xml:space="preserve">NaNO</text><text x="131.2" y="3.96" font-size="9.9" xml:space="preserve">3</text></g>
<path d="M615.6 706.65L621.68 696.35H609.52Z" fill="#ff00ff"/>
<g transform="translate(635,706.5) scale(0.9972,1.0)" fill="#000" stroke="#000"><text x="0" y="0" font-size="16.5" xml:space="preserve">100μmol L</text><text x="73.47" y="-6.93" font-size="9.9" xml:space="preserve">−1</text><text x="84" y="0" font-size="16.5" xml:space="preserve"> </text><text x="88.13" y="0" font-size="16.5" xml:space="preserve">NaNO</text><text x="131.2" y="3.96" font-size="9.9" xml:space="preserve">3</text><text x="136.15" y="0" font-size="16.5" xml:space="preserve">+1229.86μmol L</text><text x="247.8" y="-6.93" font-size="9.9" xml:space="preserve">−1</text><text x="258.33" y="0" font-size="16.5" xml:space="preserve"> IPA</text></g>
<path d="M615.6 719.92L622.23 726.3L615.6 732.67L608.97 726.3Z" fill="#087a08"/>
<g transform="translate(635,731.5) scale(0.9972,1.0)" fill="#000" stroke="#000"><text x="0" y="0" font-size="16.5" xml:space="preserve">100μmol L</text><text x="73.47" y="-6.93" font-size="9.9" xml:space="preserve">−1</text><text x="84" y="0" font-size="16.5" xml:space="preserve"> </text><text x="88.13" y="0" font-size="16.5" xml:space="preserve">NaNO</text><text x="131.2" y="3.96" font-size="9.9" xml:space="preserve">3</text><text x="136.15" y="0" font-size="16.5" xml:space="preserve">+3074.65μmol L</text><text x="247.8" y="-6.93" font-size="9.9" xml:space="preserve">−1</text><text x="258.33" y="0" font-size="16.5" xml:space="preserve"> IPA</text></g>
<rect x="88" y="1056.5" width="7" height="7" fill="#4a4a4a"/>
<g transform="translate(109.2,1063.9) scale(0.9954,1.0)" fill="#3a3a3a" stroke="none"><text x="0" y="0" font-size="12" xml:space="preserve">0μmol L</text><text x="41.43" y="-5.04" font-size="7.2" xml:space="preserve">−1</text><text x="49.09" y="0" font-size="12" xml:space="preserve"> </text><text x="52.09" y="0" font-size="12" xml:space="preserve">Na</text><text x="66.09" y="2.88" font-size="7.2" xml:space="preserve">2</text><text x="69.69" y="0" font-size="12" xml:space="preserve">SO</text><text x="85.02" y="2.88" font-size="7.2" xml:space="preserve">3</text></g>
<circle cx="91.5" cy="1078.4" r="3.9" fill="#f03c3c"/>
<g transform="translate(109.1,1082.8) scale(0.9966,1.0)" fill="#3a3a3a" stroke="none"><text x="0" y="0" font-size="12" xml:space="preserve">2μmol L</text><text x="41.43" y="-5.04" font-size="7.2" xml:space="preserve">−1</text><text x="49.09" y="0" font-size="12" xml:space="preserve"> </text><text x="52.09" y="0" font-size="12" xml:space="preserve">Na</text><text x="66.09" y="2.88" font-size="7.2" xml:space="preserve">2</text><text x="69.69" y="0" font-size="12" xml:space="preserve">SO</text><text x="85.02" y="2.88" font-size="7.2" xml:space="preserve">3</text></g>
<path d="M91.5 1093.2L95.98 1100.8H87.02Z" fill="#1f62e0"/>
<g transform="translate(108.9,1101.2) scale(0.9989,1.0)" fill="#3a3a3a" stroke="none"><text x="0" y="0" font-size="12" xml:space="preserve">5μmol L</text><text x="41.43" y="-5.04" font-size="7.2" xml:space="preserve">−1</text><text x="49.09" y="0" font-size="12" xml:space="preserve"> </text><text x="52.09" y="0" font-size="12" xml:space="preserve">Na</text><text x="66.09" y="2.88" font-size="7.2" xml:space="preserve">2</text><text x="69.69" y="0" font-size="12" xml:space="preserve">SO</text><text x="85.02" y="2.88" font-size="7.2" xml:space="preserve">3</text></g>
<path d="M91.5 1120.5L95.98 1112.9H87.02Z" fill="#2e9e62"/>
<g transform="translate(108.6,1120.3) scale(0.9979,1.0)" fill="#3a3a3a" stroke="none"><text x="0" y="0" font-size="12" xml:space="preserve">10μmol L</text><text x="47.43" y="-5.04" font-size="7.2" xml:space="preserve">−1</text><text x="55.09" y="0" font-size="12" xml:space="preserve"> </text><text x="58.09" y="0" font-size="12" xml:space="preserve">Na</text><text x="72.09" y="2.88" font-size="7.2" xml:space="preserve">2</text><text x="75.69" y="0" font-size="12" xml:space="preserve">SO</text><text x="91.02" y="2.88" font-size="7.2" xml:space="preserve">3</text></g>
<path d="M91.5 1130.5L96.18 1135L91.5 1139.5L86.82 1135Z" fill="#a96fdb"/>
<g transform="translate(109.1,1138.7) scale(0.9925,1.0)" fill="#3a3a3a" stroke="none"><text x="0" y="0" font-size="12" xml:space="preserve">20μmol L</text><text x="47.43" y="-5.04" font-size="7.2" xml:space="preserve">−1</text><text x="55.09" y="0" font-size="12" xml:space="preserve"> </text><text x="58.09" y="0" font-size="12" xml:space="preserve">Na</text><text x="72.09" y="2.88" font-size="7.2" xml:space="preserve">2</text><text x="75.69" y="0" font-size="12" xml:space="preserve">SO</text><text x="91.02" y="2.88" font-size="7.2" xml:space="preserve">3</text></g>
<path d="M87.5 1153.7L95.5 1148.98V1158.42Z" fill="#c9960c"/>
<g transform="translate(108.6,1157.6) scale(1.0010,1.0)" fill="#3a3a3a" stroke="none"><text x="0" y="0" font-size="12" xml:space="preserve">100μmol L</text><text x="53.43" y="-5.04" font-size="7.2" xml:space="preserve">−1</text><text x="61.09" y="0" font-size="12" xml:space="preserve"> </text><text x="64.09" y="0" font-size="12" xml:space="preserve">Na</text><text x="78.09" y="2.88" font-size="7.2" xml:space="preserve">2</text><text x="81.69" y="0" font-size="12" xml:space="preserve">SO</text><text x="97.02" y="2.88" font-size="7.2" xml:space="preserve">3</text></g>
<rect x="615" y="1092.7" width="7" height="7" fill="#4a4a4a"/>
<g transform="translate(633.59,1101.4) scale(1.0059,1.0)" fill="#000" stroke="#000"><text x="0" y="0" font-size="16.4" xml:space="preserve">5μmol L</text><text x="56.62" y="-6.89" font-size="9.84" xml:space="preserve">−1</text><text x="67.05" y="0" font-size="16.4" xml:space="preserve"> </text><text x="71.15" y="0" font-size="16.4" xml:space="preserve">Na</text><text x="90.27" y="3.94" font-size="9.84" xml:space="preserve">2</text><text x="95.17" y="0" font-size="16.4" xml:space="preserve">SO</text><text x="116.14" y="3.94" font-size="9.84" xml:space="preserve">3</text></g>
<circle cx="618.5" cy="1122.2" r="3.9" fill="#f03c3c"/>
<g transform="translate(633.2,1127.1) scale(0.9986,1.0)" fill="#000" stroke="#000"><text x="0" y="0" font-size="16.4" xml:space="preserve">5μmol L</text><text x="56.62" y="-6.89" font-size="9.84" xml:space="preserve">−1</text><text x="67.05" y="0" font-size="16.4" xml:space="preserve"> </text><text x="71.15" y="0" font-size="16.4" xml:space="preserve">Na</text><text x="90.27" y="3.94" font-size="9.84" xml:space="preserve">2</text><text x="95.17" y="0" font-size="16.4" xml:space="preserve">SO</text><text x="116.14" y="3.94" font-size="9.84" xml:space="preserve">3</text><text x="121.04" y="0" font-size="16.4" xml:space="preserve">+1229.86μmol  L</text><text x="236.11" y="-6.89" font-size="9.84" xml:space="preserve">−1</text><text x="246.53" y="0" font-size="16.4" xml:space="preserve"> TBA</text></g>
<path d="M618.5 1144.4L622.98 1152H614.02Z" fill="#1f62e0"/>
<g transform="translate(633.2,1153.1) scale(1.0021,1.0)" fill="#000" stroke="#000"><text x="0" y="0" font-size="16.4" xml:space="preserve">5μmol L</text><text x="56.62" y="-6.89" font-size="9.84" xml:space="preserve">−1</text><text x="67.05" y="0" font-size="16.4" xml:space="preserve"> </text><text x="71.15" y="0" font-size="16.4" xml:space="preserve">Na</text><text x="90.27" y="3.94" font-size="9.84" xml:space="preserve">2</text><text x="95.17" y="0" font-size="16.4" xml:space="preserve">SO</text><text x="116.14" y="3.94" font-size="9.84" xml:space="preserve">3</text><text x="121.04" y="0" font-size="16.4" xml:space="preserve">+1229.86μmol  L</text><text x="236.11" y="-6.89" font-size="9.84" xml:space="preserve">−1</text><text x="246.53" y="0" font-size="16.4" xml:space="preserve"> EtOH</text></g>
</svg></body></html>
